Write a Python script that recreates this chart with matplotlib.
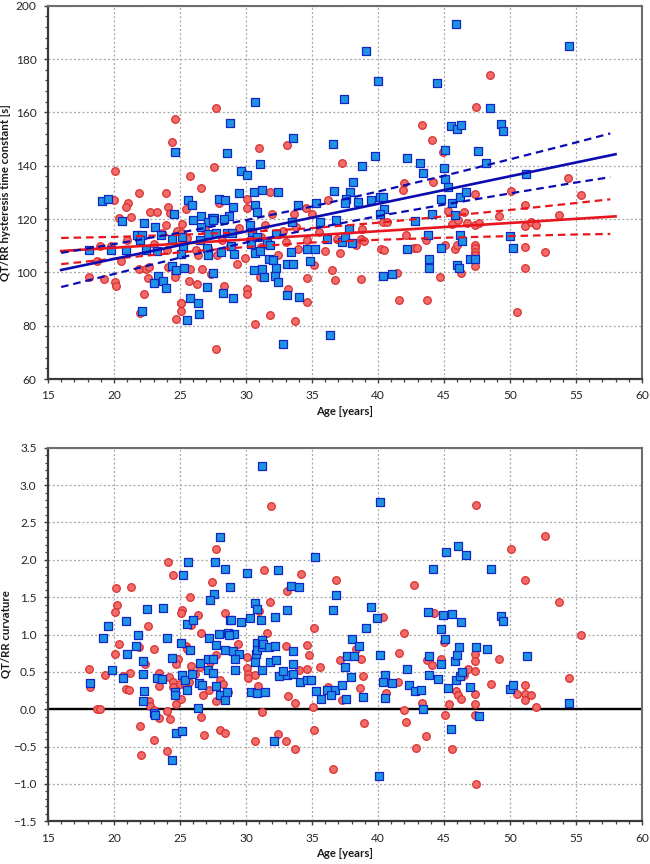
import matplotlib
matplotlib.use("Agg")
import matplotlib.pyplot as plt
from matplotlib.ticker import MultipleLocator

plt.rcParams['font.family'] = ['Lato', 'DejaVu Sans']

# ---------------- Top panel data: QT/RR hysteresis time constant [s] ----------------
top_red_age = [20.08, 20.03, 21.06, 20.9, 21.87, 23.95, 24.12, 24.43, 24.63, 25.79, 25.44, 26.6, 27.71, 27.56,
               27.96, 30.09, 30.06, 30.97, 31.83, 33.14, 34.53, 36.18, 22.7, 23.24, 24.25, 31.96, 33.65, 35.0,
               20.38, 21.27, 23.95, 24.81, 25.13, 25.13, 25.51, 23.62, 18.94, 18.71, 20.53, 18.13, 19.27, 20.08,
               20.13, 21.9, 22.43, 22.58, 22.68, 24.07, 24.63, 24.63, 25.77, 26.7, 25.72, 26.27, 27.33, 25.06,
               26.35, 28.37, 29.35, 30.09, 30.06, 31.07, 31.12, 32.39, 33.04, 33.95, 34.61, 35.12, 34.66, 33.15,
               34.61, 22.3, 27.16, 27.79, 31.45, 31.12, 22.0, 24.68, 25.08, 25.08, 27.71, 30.69, 31.8, 33.73,
               36.5, 36.78, 37.09, 36.88, 38.32, 38.78, 38.7, 38.96, 38.7, 40.42, 40.67, 40.24, 40.47, 41.48,
               41.61, 42.14, 42.7, 42.95, 43.66, 43.71, 44.72, 45.1, 45.3, 45.6, 45.86, 45.98, 46.1, 46.31,
               46.49, 46.74, 47.37, 47.37, 47.37, 47.37, 47.37, 47.37, 47.62, 49.17, 51.16, 51.11, 51.16, 51.16,
               50.53, 51.6, 52.0, 52.68, 53.69, 55.4, 48.5, 47.4, 43.3, 44.06, 44.9, 37.3, 42.0, 41.9, 44.2,
               47.35, 50.1, 54.4, 26.9, 28.2, 29.5, 30.3, 28.8, 26.2, 24.0, 23.0, 21.0, 19.8, 29.9, 32.8, 33.8,
               35.5, 36.0]
top_red_val = [138.0, 127.1, 126.0, 124.4, 129.6, 129.9, 124.6, 148.8, 157.4, 136.0, 123.8, 131.8, 161.5, 139.6,
               126.0, 127.5, 124.0, 146.6, 130.3, 147.8, 124.0, 127.0, 122.8, 122.6, 122.4, 122.0, 122.0, 122.0,
               120.3, 120.9, 117.8, 115.5, 118.15, 114.65, 112.8, 114.65, 109.9, 104.4, 104.3, 98.4, 97.5, 96.5,
               94.9, 101.15, 101.15, 98.0, 102.15, 102.15, 99.9, 98.4, 101.15, 101.15, 96.9, 95.5, 99.3, 88.65,
               106.5, 95.0, 103.0, 93.65, 91.8, 98.4, 109.65, 106.5, 111.5, 108.65, 112.15, 102.8, 98.0, 93.8,
               89.0, 91.9, 109.0, 106.5, 117.8, 113.4, 84.6, 82.5, 85.4, 88.6, 71.1, 80.5, 84.2, 81.6,
               100.9, 97.2, 107.1, 112.7, 110.2, 116.1, 112.7, 111.9, 97.5, 119.0, 119.0, 108.6, 108.4, 99.6,
               89.6, 114.0, 109.2, 109.2, 112.1, 89.5, 98.1, 110.2, 123.1, 118.0, 108.6, 110.2, 119.6, 99.6,
               122.7, 118.4, 117.7, 110.2, 109.0, 107.7, 106.5, 102.5, 118.6, 121.2, 125.2, 117.4, 109.6, 101.5,
               85.0, 119.0, 117.8, 107.6, 121.5, 128.9, 174.1, 162.1, 155.4, 149.5, 145.1, 140.9, 133.5, 130.8, 133.9,
               129.3, 130.5, 135.4, 116.0, 112.0, 116.5, 112.0, 110.0, 108.5, 108.5, 110.5, 112.0, 110.0, 105.5, 115.5, 117.0,
               115.0, 108.0]

top_blue_age = [19.09, 19.55, 24.63, 24.55, 25.59, 25.92, 27.94, 28.44, 28.57, 28.77, 29.05, 29.45, 29.61, 30.06,
                30.72, 30.64, 30.72, 30.82, 31.2, 31.1, 32.39, 33.55, 33.98, 35.32, 26.6, 27.4, 27.6, 28.7,
                20.61, 22.3, 23.09, 26.02, 27.16, 27.54, 28.37, 30.29, 33.52, 35.64, 21.72, 22.13, 22.0, 23.54,
                20.91, 19.78, 18.11, 22.43, 23.24, 24.38, 25.13, 25.21, 25.11, 26.57, 26.52, 27.03, 27.13, 27.13,
                27.74, 28.09, 28.55, 28.98, 28.87, 29.1, 30.37, 30.72, 31.07, 30.47, 30.87, 31.58, 31.83, 32.29,
                31.78, 32.08, 32.24, 32.21, 32.46, 33.42, 33.1, 33.6, 34.66, 35.24, 34.86, 30.62, 31.2, 31.38,
                33.1, 34.03, 23.31, 23.04, 23.7, 23.95, 24.38, 24.73, 25.34, 27.05, 27.54, 28.29, 29.05, 25.74,
                26.35, 22.15, 25.51, 26.45, 32.82,
                36.13, 36.81, 37.26, 37.52, 37.82, 38.07, 40.42, 41.05, 42.19, 42.77, 43.78, 43.83, 43.83, 44.77,
                46.18, 46.36, 45.98, 46.16, 46.94, 47.37, 50.02, 50.2, 36.38,
                45.9, 54.5, 39.06, 40.04, 44.5, 37.4, 48.5, 45.5, 46.0, 46.3, 49.3, 49.5, 36.6, 45.1, 47.6, 39.8,
                42.2, 38.8, 43.2, 43.4, 48.2, 45.0, 45.1, 51.2, 38.1, 36.68, 37.92, 37.59, 37.54, 38.52, 39.46,
                40.12, 40.42, 40.47, 40.12, 45.3, 44.8, 45.6, 46.2, 46.7, 44.1, 45.8]
top_blue_val = [126.9, 127.4, 145.0, 121.9, 127.1, 125.3, 127.5, 127.0, 144.8, 156.0, 124.6, 129.6, 137.9, 136.5,
                163.8, 130.0, 125.3, 122.5, 130.9, 140.5, 130.3, 150.4, 125.3, 126.0, 121.1, 120.3, 120.3, 121.1,
                119.3, 118.4, 117.1, 119.65, 119.0, 119.65, 119.9, 117.8, 119.0, 118.9, 114.0, 114.0, 112.15, 114.0,
                108.4, 108.4, 108.4, 108.4, 108.0, 112.4, 113.4, 109.6, 106.8, 116.9, 112.15, 109.0, 106.65, 114.4,
                114.65, 107.8, 114.65, 114.9, 109.9, 106.8, 110.65, 107.15, 108.0, 115.3, 113.4, 111.15, 110.3, 114.4,
                104.9, 104.65, 101.5, 98.65, 96.3, 107.8, 103.0, 103.0, 108.8, 108.65, 104.4, 100.9, 101.15, 98.4,
                91.5, 90.9, 98.65, 96.15, 96.9, 94.0, 102.4, 100.9, 101.5, 94.4, 99.65, 92.15, 90.3, 90.5,
                88.5, 85.5, 82.1, 84.4, 73.1,
                112.7, 119.6, 111.5, 113.1, 116.1, 110.9, 98.6, 99.4, 108.6, 119.4, 114.0, 105.2, 101.5, 109.2,
                114.0, 111.9, 102.6, 101.7, 105.2, 105.2, 113.6, 109.0, 76.6,
                193.1, 184.8, 183.0, 171.6, 170.9, 165.0, 161.5, 154.9, 153.9, 155.1, 155.6, 153.1, 148.1, 145.9, 145.4, 143.7,
                142.8, 139.8, 141.0, 137.2, 140.9, 139.1, 135.1, 136.8, 133.9, 130.4, 130.1, 127.6, 126.0, 126.4, 127.2,
                128.4, 128.1, 123.7, 121.9, 132.0, 127.4, 126.0, 128.1, 130.0, 122.0, 121.5]

# regression lines and 95% confidence bands
fit_age = [16, 58]
blue_fit = [100.9, 144.3]
red_fit = [108.0, 121.0]
band_age = [16, 20, 25, 30, 35, 40, 45, 50, 55, 57.6]
blue_upper = [107.3, 110.6, 114.9, 119.6, 124.7, 130.3, 136.2, 142.4, 148.7, 152.1]
blue_lower = [94.5, 99.4, 105.5, 111.2, 116.3, 121.1, 125.4, 129.6, 133.7, 135.7]
red_upper = [112.9, 113.3, 114.1, 115.1, 116.6, 118.6, 121.0, 123.4, 126.0, 127.4]
red_lower = [103.1, 105.1, 107.5, 109.5, 111.2, 112.2, 113.0, 113.6, 114.2, 114.4]

# ---------------- Bottom panel data: QT/RR curvature ----------------
bot_blue_age = [31.22, 28.06, 25.59, 27.63, 28.44, 25.23, 30.09, 32.41, 35.24, 28.8, 27.58, 27.31, 33.45, 34.03,
                30.67, 30.87, 33.09, 22.48, 23.72, 20.94, 19.57, 19.14, 21.82, 23.99, 25.56, 26.02, 28.82, 28.9,
                29.63, 30.31, 31.15, 32.23, 27.94, 28.67, 29.12, 28.75, 27.18, 25.11, 30.82, 31.25, 27.74, 21.7,
                40.12, 45.12, 46.06, 46.69, 44.14, 48.53, 36.83, 36.63, 39.49, 39.89, 43.78, 44.95, 45.63, 46.31,
                49.32, 49.49, 39.11, 44.79, 45.1, 38.07, 38.53,
                20.96, 19.88, 20.66, 18.16, 22.2, 22.2, 22.3, 22.18, 23.04, 23.14, 23.29, 23.64, 24.43, 25.74,
                25.16, 25.41, 25.92, 25.56, 24.65, 24.63, 24.73, 25.13, 24.37, 26.4, 26.55, 26.47, 26.65, 27.15,
                27.53, 27.13, 27.53, 27.76, 28.44, 28.04, 28.39, 28.55, 29.05, 29.48, 29.18, 29.2, 30.36, 30.82,
                30.67, 30.77, 30.82, 31.25, 31.27, 31.22, 31.45, 31.8, 32.28, 31.78, 32.18, 32.13, 32.49, 33.14,
                33.6, 32.84, 33.55, 33.55, 34.1, 34.61, 34.89, 35.32, 35.65,
                36.13, 36.71, 36.43, 37.26, 37.59, 37.52, 37.97, 37.64, 38.22, 38.83, 40.17, 40.5, 40.42, 40.57,
                41.08, 42.19, 42.32, 42.77, 43.28, 43.4, 43.88, 43.88, 44.52, 44.79, 45.32, 45.53, 45.83, 45.98,
                46.13, 45.88, 46.18, 46.36, 46.97, 47.4, 47.65, 48.26, 50.02, 50.2, 51.29, 54.47, 40.07]
bot_blue_val = [3.257, 2.307, 1.964, 1.964, 1.883, 1.803, 1.830, 1.870, 2.035, 1.642, 1.548, 1.459, 1.651, 1.642,
                1.419, 1.339, 1.334, 1.339, 1.352, 1.178, 1.111, 0.959, 0.991, 0.959, 1.142, 1.201, 1.192, 1.201,
                1.174, 1.227, 1.196, 1.232, 1.013, 1.022, 1.013, 0.991, 0.959, 0.888, 0.888, 0.933, 0.857, 0.843,
                2.771, 2.102, 2.191, 2.066, 1.874, 1.879, 1.531, 1.325, 1.374, 1.227, 1.299, 1.258, 1.272, 1.169,
                1.254, 1.178, 1.084, 1.071, 0.937, 0.937, 0.848,
                0.736, 0.531, 0.419, 0.357, 0.469, 0.643, 0.241, 0.107, -0.049, -0.071, 0.419, 0.411, 0.692, 0.790,
                0.455, 0.397, 0.478, 0.254, 0.232, 0.196, -0.321, -0.286, -0.674, 0.018, 0.620, 0.357, 0.321, 0.678,
                0.678, 0.531, 0.491, 0.312, 0.790, 0.196, 0.129, 0.232, 0.776, 0.736, 0.678, 0.522, 0.232, 0.219,
                0.634, 0.745, 0.790, 0.834, 0.879, 0.531, 0.232, 0.634, 0.665, 0.834, 0.843, -0.429, 0.446, 0.464,
                0.478, 0.509, 0.776, 0.611, 0.366, 0.388, 0.388, 0.241, 0.143,
                0.254, 0.254, 0.196, 0.330, 0.143, 0.567, 0.433, 0.714, 0.714, 0.165, 0.727, 0.455, 0.366, 0.156,
                0.353, 0.545, 0.321, 0.241, 0.254, 0.0, 0.710, 0.455, 0.402, 0.603, 0.286, -0.259, 0.643, 0.723,
                0.834, 0.388, 0.442, 0.500, 0.299, 0.834, -0.094, 0.803, 0.277, 0.321, 0.718, 0.089, -0.888]

bot_red_age = [31.86, 27.74, 24.07, 24.45, 31.4, 34.18, 20.18, 21.32, 27.41, 25.74, 33.14, 31.83, 20.23, 20.05,
               22.56, 25.13, 25.08, 26.4, 28.44, 30.97, 25.82, 26.62, 31.63, 35.12, 20.36, 23.06, 29.38, 33.07,
               34.59, 25.49,
               47.4, 52.68, 50.1, 36.83, 42.7, 51.16, 53.71, 40.37, 44.21, 42.01, 55.41, 44.97,
               18.08, 18.18, 18.69, 18.94, 19.32, 20.08, 20.66, 20.91, 21.14, 21.24, 21.9, 21.97, 22.05, 22.38,
               22.66, 22.76, 23.04, 23.39, 23.39, 23.39, 23.01, 23.99, 23.99, 24.27, 24.2, 24.5, 24.5, 24.7,
               24.88, 24.7, 25.11, 25.01, 25.39, 25.71, 25.56, 25.82, 26.14, 26.52, 26.72, 26.6, 26.83, 27.28,
               27.21, 27.74, 28.0, 28.44, 28.04, 28.29, 28.67, 27.76, 30.09, 30.14, 30.19, 30.09, 30.72, 30.92,
               30.72, 31.25, 32.39, 33.04, 33.2, 33.73, 33.75, 34.74, 34.59, 34.0, 35.6, 35.06, 35.12,
               36.56, 36.18, 37.14, 37.26, 38.32, 38.7, 38.65, 38.83, 38.98, 40.42, 40.62, 41.51, 41.61, 41.94,
               42.14, 42.92, 43.33, 43.66, 43.71, 44.09, 44.77, 45.1, 45.35, 45.63, 45.88, 46.03, 46.31, 46.49,
               46.82, 47.37, 47.37, 47.37, 47.37, 47.37, 47.37, 47.42, 48.56, 49.19, 50.53, 51.16, 51.16, 51.16,
               51.59, 51.97, 54.45]
bot_red_val = [2.718, 2.151, 1.977, 1.803, 1.870, 1.812, 1.629, 1.638, 1.700, 1.508, 1.580, 1.437, 1.392, 1.303,
               1.120, 1.325, 1.290, 1.263, 1.285, 1.321, 1.125, 1.026, 1.026, 1.093, 0.875, 0.812, 0.875, 0.848,
               0.857, 0.843,
               2.740, 2.320, 2.151, 1.731, 1.660, 1.736, 1.441, 1.236, 1.294, 1.022, 0.999, 0.901,
               0.535, 0.299, 0.0, 0.0, 0.464, 0.745, 0.442, 0.268, 0.254, 0.486, 0.834, -0.223, -0.616, 0.611,
               0.107, 0.040, -0.004, 0.486, 0.308, -0.116, -0.415, -0.027, -0.562, -0.134, 0.433, 0.366, 0.299, 0.076,
               0.678, 0.611, 0.143, 0.344, 0.321, 0.366, 0.812, 0.580, 0.478, 0.567, 0.187, -0.103, -0.348, 0.634,
               0.254, 0.107, -0.281, -0.312, 0.388, 0.344, 0.232, 0.723, 0.553, 0.478, 0.419, 0.701, 0.455, 0.308,
               -0.429, -0.036, -0.326, -0.429, 0.174, -0.527, 0.085, 0.732, 0.544, 0.52, 0.567, 0.031, -0.281,
               -0.799, 0.299, 0.656, 0.121, 0.812, 0.678, 0.286, 0.442, -0.183, 0.379, 0.219, 0.366, 0.759, -0.013,
               -0.170, -0.518, 0.085, -0.362, 0.665, 0.598, 0.669, -0.081, 0.076, -0.531, 0.245, 0.187, 0.143, 0.455,
               0.544, 0.745, 0.643, 0.509, 0.210, 0.067, -0.080, -0.995, 0.344, 0.669, 0.201, 0.330, 0.210, 0.129,
               0.187, 0.031, 0.424]

# ---------------- styling ----------------
RED_FILL, RED_EDGE = '#F26B6B', '#D9302F'
BLUE_FILL, BLUE_EDGE = '#1F93E3', '#1226C4'
RED_LINE, BLUE_LINE = '#E8161E', '#0C0CB0'
GRID = '#A8A8A8'

fig = plt.figure(figsize=(6.5, 8.64), dpi=100)
ax1 = fig.add_axes([0.0738, 0.5613, 0.9138, 0.4321])
ax2 = fig.add_axes([0.0738, 0.0494, 0.9138, 0.4324])


def style(ax, ymin, ymax, ymaj, ymin_step, ylabel, fmt):
    ax.set_xlim(15, 60)
    ax.set_ylim(ymin, ymax)
    ax.xaxis.set_major_locator(MultipleLocator(5))
    ax.xaxis.set_minor_locator(MultipleLocator(1))
    ax.yaxis.set_major_locator(MultipleLocator(ymaj))
    ax.yaxis.set_minor_locator(MultipleLocator(ymin_step))
    ax.grid(True, which='major', color=GRID, linestyle=(0, (1.6, 1.8)), linewidth=0.9, zorder=0)
    ax.set_axisbelow(True)
    ax.tick_params(which='major', direction='out', length=3.2, width=1.0, color='#404040',
                   labelsize=8.6, pad=5, labelcolor='#262626')
    ax.tick_params(which='minor', direction='out', length=2.0, width=0.9, color='#404040')
    for side in ('left', 'bottom'):
        ax.spines[side].set_color('#3a3a3a')
        ax.spines[side].set_linewidth(1.6)
    for side in ('top', 'right'):
        ax.spines[side].set_color('#6e6e6e')
        ax.spines[side].set_linewidth(1.5)
    ax.set_xlabel('Age [years]', fontsize=8.2, fontweight='bold', labelpad=3, color='#1a1a1a')
    ax.set_ylabel(ylabel, fontsize=8.2, fontweight='bold', color='#1a1a1a')
    ax.yaxis.set_label_coords(-0.062, 0.5)
    ax.yaxis.set_major_formatter(fmt)


style(ax1, 60, 200, 20, 4, 'QT/RR hysteresis time constant [s]', '{x:.0f}')
style(ax2, -1.5, 3.5, 0.5, 0.1, 'QT/RR curvature', '{x:.1f}')

sc_kw = dict(linewidths=0.9, zorder=3)
ax1.scatter(top_red_age, top_red_val, s=30, marker='o', facecolor=RED_FILL, edgecolor=RED_EDGE, **sc_kw)
ax1.scatter(top_blue_age, top_blue_val, s=27, marker='s', facecolor=BLUE_FILL, edgecolor=BLUE_EDGE, **sc_kw)

dash = (0, (3.4, 2.2))
ax1.plot(band_age, red_upper, color=RED_LINE, lw=1.6, linestyle=dash, zorder=4)
ax1.plot(band_age, red_lower, color=RED_LINE, lw=1.6, linestyle=dash, zorder=4)
ax1.plot(fit_age, red_fit, color=RED_LINE, lw=1.9, zorder=4)
ax1.plot(band_age, blue_upper, color=BLUE_LINE, lw=1.6, linestyle=dash, zorder=5)
ax1.plot(band_age, blue_lower, color=BLUE_LINE, lw=1.6, linestyle=dash, zorder=5)
ax1.plot(fit_age, blue_fit, color=BLUE_LINE, lw=1.9, zorder=5)

ax2.axhline(0, color='black', lw=1.7, zorder=2)
ax2.scatter(bot_red_age, bot_red_val, s=30, marker='o', facecolor=RED_FILL, edgecolor=RED_EDGE, **sc_kw)
ax2.scatter(bot_blue_age, bot_blue_val, s=27, marker='s', facecolor=BLUE_FILL, edgecolor=BLUE_EDGE, **sc_kw)

fig.savefig('out.png', dpi=100)
